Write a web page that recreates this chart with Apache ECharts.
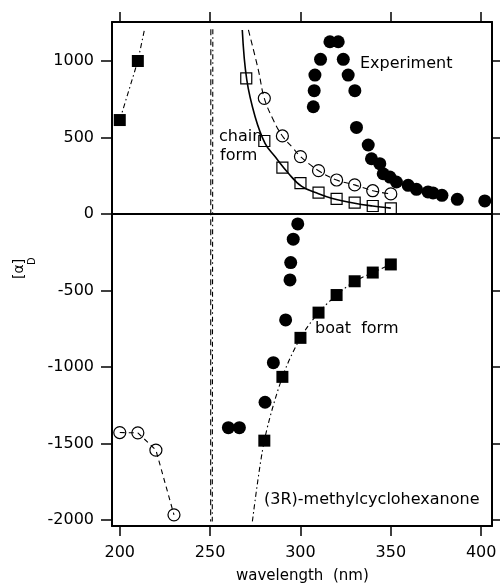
<!DOCTYPE html>
<html>
<head>
<meta charset="utf-8">
<script src="https://cdn.jsdelivr.net/npm/echarts@6/dist/echarts.min.js"></script>
<style>
html,body{margin:0;padding:0;background:#fff;}
#c{width:500px;height:587px;}
</style>
</head>
<body>
<div id="c"></div>
<script>
// ---- data (wavelength nm, [alpha]D) ----
var xTicks = [200, 250, 300, 350, 400];
var yTicks = [-2000, -1500, -1000, -500, 0, 500, 1000];

var experimentPts = [
  [307.1, 701], [307.6, 806], [308.0, 908], [311.1, 1011], [316.3, 1126], [320.9, 1126],
  [323.7, 1011], [326.4, 908], [330.1, 806], [331.0, 566], [337.5, 451], [339.3, 361],
  [343.9, 329], [345.8, 263], [349.5, 241], [353.1, 209], [359.6, 187], [364.2, 161],
  [370.6, 144], [373.4, 137], [378.3, 122], [386.8, 96], [402.0, 85],
  [298.5, -65], [296.0, -165], [294.6, -318], [294.2, -431], [291.8, -693],
  [285.0, -972], [280.4, -1231], [266.2, -1397], [260.1, -1397]
];

var boatSquares = [
  [200, 614], [210, 1000],
  [280, -1482], [290, -1065], [300, -810], [310, -645], [320, -530], [330, -440], [340, -383], [350, -330]
];
var boatCurveLeft = [[200, 614], [210, 1000], [213.7, 1207]];
var boatCurveRight = [[273.4, -2010], [280, -1482], [290, -1065], [300, -810], [310, -645],
  [320, -530], [330, -440], [340, -383], [350, -330]];

var chainSquares = [[270, 887], [280, 477], [290, 303], [300, 201], [310, 139], [320, 98], [330, 74], [340, 52], [350, 37]];
var chainSolidCurve = [[267.8, 1203], [270.3, 876], [274.9, 636], [280.4, 462], [285.9, 375], [293.3, 266],
  [300.7, 180], [310, 132], [317.2, 103], [330, 70], [340, 52], [350, 38]];

var chainCircles = [[280, 756], [290, 510], [300, 375], [310, 283], [320, 222], [330, 190], [340, 152], [350, 131]];
var chainDashCurve = [[271.2, 1203], [276.7, 941], [280, 756], [285, 614], [290, 510], [296, 429],
  [300, 375], [310, 283], [320, 222], [330, 190], [340, 152], [350, 131]];

var chainCirclesLow = [[200, -1429], [210, -1431], [220, -1544], [230, -1967]];

var asymptoteDash = [[250.4, 1207], [250.3, -2010]];
var asymptoteDashDot = [[251.5, 1207], [251.2, -2010]];

// ---- chart ----
var FONT = 'DejaVu Sans';
var chart = echarts.init(document.getElementById('c'), null, {renderer: 'canvas'});

function axisX(pos, showLabel) {
  return {
    type: 'value', position: pos, min: 195.7, max: 406,
    axisLine: {show: true, onZero: false, lineStyle: {color: '#000', width: 2}},
    axisTick: {show: true, inside: false, length: 10, customValues: xTicks, lineStyle: {color: '#000', width: 1.5}},
    axisLabel: {show: showLabel, customValues: xTicks, margin: 19, color: '#000', fontFamily: FONT, fontSize: 16},
    splitLine: {show: false}
  };
}
function axisY(pos, showLabel, tickLen) {
  return {
    type: 'value', position: pos, min: -2040, max: 1255,
    axisLine: {show: true, onZero: false, lineStyle: {color: '#000', width: 2}},
    axisTick: {show: true, inside: false, length: tickLen, customValues: yTicks, lineStyle: {color: '#000', width: 1.5}},
    axisLabel: {show: showLabel, customValues: yTicks, margin: 18, color: '#000', fontFamily: FONT, fontSize: 16,
      formatter: function (v) { return String(v); }},
    splitLine: {show: false}
  };
}

function curve(data, type, width, smooth) {
  return {
    type: 'line', data: data, showSymbol: false, symbol: 'none', smooth: smooth, silent: true,
    lineStyle: {color: '#000', width: width, type: type}, z: 2, animation: false
  };
}
function marks(data, symbol, size, filled) {
  return {
    type: 'scatter', data: data, symbol: symbol, symbolSize: size, silent: true, animation: false, z: 3,
    itemStyle: filled ? {color: '#000', opacity: 1} : {color: 'rgba(0,0,0,0)', borderColor: '#000', borderWidth: 1.2, opacity: 1}
  };
}

var DASH = [6, 4];
var DASHDOT = [5, 3, 1.5, 3];

chart.setOption({
  animation: false,
  backgroundColor: '#fff',
  grid: {left: 112, right: 8, top: 22, bottom: 61, containLabel: false},
  xAxis: [axisX('bottom', true), axisX('top', false)],
  yAxis: [axisY('left', true, 11), axisY('right', false, 8)],
  series: [
    {
      type: 'line', data: [], silent: true,
      markLine: {silent: true, symbol: 'none', animation: false, label: {show: false},
        lineStyle: {color: '#000', width: 2, type: 'solid'}, data: [{yAxis: 0}]}
    },
    curve(asymptoteDash, DASH, 1.1, false),
    curve(asymptoteDashDot, DASHDOT, 1.1, false),
    curve(boatCurveLeft, DASHDOT, 1.1, false),
    curve(boatCurveRight, DASHDOT, 1.1, 0.3),
    curve(chainSolidCurve, 'solid', 1.6, 0.4),
    curve(chainDashCurve, DASH, 1.1, 0.4),
    curve(chainCirclesLow, [5, 4], 1.1, false),
    marks(boatSquares, 'rect', 12, true),
    marks(chainSquares, 'rect', 11, false),
    marks(chainCircles, 'circle', 12, false),
    marks(chainCirclesLow, 'circle', 12, false),
    marks(experimentPts, 'circle', 13, true)
  ],
  graphic: [
    {type: 'text', left: 360, top: 56, style: {text: 'Experiment', font: '16px "DejaVu Sans"', fill: '#000'}},
    {type: 'text', left: 219, top: 129, style: {text: 'chain', font: '16px "DejaVu Sans"', fill: '#000'}},
    {type: 'text', left: 220, top: 148, style: {text: 'form', font: '16px "DejaVu Sans"', fill: '#000'}},
    {type: 'text', left: 315, top: 321, style: {text: 'boat  form', font: '16px "DejaVu Sans"', fill: '#000'}},
    {type: 'text', left: 264, top: 492, style: {text: '(3R)-methylcyclohexanone', font: '16px "DejaVu Sans"', fill: '#000'}},
    {type: 'text', left: 236, top: 569, style: {text: 'wavelength  (nm)', font: '15px "DejaVu Sans"', fill: '#000'}},
    {type: 'text', x: 26, y: 279, rotation: Math.PI / 2,
      style: {text: '[α]', font: '14px "DejaVu Sans"', fill: '#000', align: 'left', verticalAlign: 'bottom'}},
    {type: 'text', x: 37, y: 265, rotation: Math.PI / 2,
      style: {text: 'D', font: '10px "DejaVu Sans"', fill: '#000', align: 'left', verticalAlign: 'bottom'}}
  ]
});
</script>
</body>
</html>
